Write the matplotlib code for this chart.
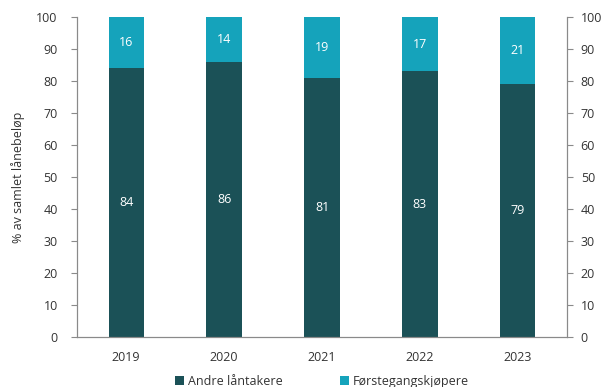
import matplotlib.pyplot as plt
import numpy as np

plt.rcParams['font.family'] = ['Open Sans', 'DejaVu Sans']

years = ['2019', '2020', '2021', '2022', '2023']
andre = [84, 86, 81, 83, 79]
forste = [16, 14, 19, 17, 21]

DARK = '#1b5157'
LIGHT = '#15a3bb'
GREY = '#8a8a8a'
TXT = '#333333'

fig = plt.figure(figsize=(6.03, 3.87), dpi=100)
ax = fig.add_axes([0.128, 0.129, 0.812, 0.827])

x = np.arange(len(years))
b1 = ax.bar(x, andre, width=0.36, color=DARK, label='Andre låntakere')
b2 = ax.bar(x, forste, width=0.36, bottom=andre, color=LIGHT, label='Førstegangskjøpere')

for i in range(len(years)):
    ax.text(x[i], andre[i] / 2, str(andre[i]), ha='center', va='center', color='white', fontsize=9)
    ax.text(x[i], andre[i] + forste[i] / 2, str(forste[i]), ha='center', va='center', color='white', fontsize=9)

ax.set_xlim(-0.5, 4.5)
ax.set_ylim(0, 100)
ax.set_xticks(x)
ax.set_xticklabels(years)
ax.set_yticks(range(0, 101, 10))
ax.tick_params(axis='x', length=0, labelsize=9, colors=TXT, pad=10)
ax.tick_params(axis='y', length=4, width=0.8, color=GREY, labelsize=9, labelcolor=TXT, pad=10)

# same scale repeated on the right
ax2 = ax.twinx()
ax2.set_ylim(0, 100)
ax2.set_yticks(range(0, 101, 10))
ax2.tick_params(axis='y', length=4, width=0.8, color=GREY, labelsize=9, labelcolor=TXT, pad=6)

for a in (ax, ax2):
    a.spines['top'].set_visible(False)
    for s in ['left', 'right', 'bottom']:
        a.spines[s].set_color(GREY)
        a.spines[s].set_linewidth(0.8)

ax.set_ylabel('% av samlet lånebeløp', fontsize=9, color=TXT, labelpad=8)

ax.legend(handles=[b1, b2], loc='lower center', bbox_to_anchor=(0.5, -0.195), ncol=2,
          frameon=False, fontsize=9, handlelength=0.7, handleheight=0.7,
          handletextpad=0.3, columnspacing=4.6, labelcolor=TXT)

fig.savefig('out.png', dpi=100)
